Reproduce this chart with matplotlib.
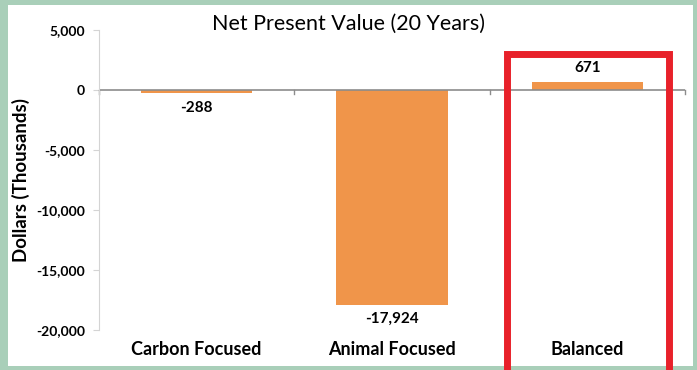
import matplotlib.pyplot as plt
from matplotlib.patches import Rectangle

categories = ['Carbon Focused', 'Animal Focused', 'Balanced']
npv = [-288, -17924, 671]
yticks = [5000, 0, -5000, -10000, -15000, -20000]

plt.rcParams['font.family'] = ['Lato', 'DejaVu Sans']

fig = plt.figure(figsize=(6.97, 3.7), dpi=100, facecolor='#a9cfb9')
# white panel behind everything
fig.patches.append(Rectangle((8/697, 4/370), 685/697, 361/370, transform=fig.transFigure,
                             facecolor='white', edgecolor='none', zorder=-10))

ax = fig.add_axes([99/697, 40/370, 586/697, 300/370])
ax.set_facecolor('none')
x = range(len(categories))
ax.bar(x, npv, width=0.57, color='#f0954a')
ax.set_xlim(-0.5, 2.5)
ax.set_ylim(-20000, 5000)

for xi, v in zip(x, npv):
    if v < 0:
        ax.text(xi, v - 600, f'{v:,}', ha='center', va='top', fontsize=11, fontweight='bold')
    else:
        ax.text(xi, v + 600, f'{v:,}', ha='center', va='bottom', fontsize=11, fontweight='bold')

ax.set_yticks(yticks)
ax.set_yticklabels([f'{t:,}' for t in yticks], fontsize=10, fontweight='bold')
ax.set_xticks([])
for s in ['top', 'right', 'bottom']:
    ax.spines[s].set_visible(False)
ax.spines['left'].set_color('#d4d4d4')
ax.tick_params(axis='y', color='#d4d4d4', length=4, pad=6)
ax.axhline(0, color='#8c8c8c', lw=1.2, zorder=1)
for b in [-0.5, 0.5, 1.5, 2.5]:
    ax.plot([b, b], [0, -350], color='#8c8c8c', lw=1, clip_on=False)

for xi, c in zip(x, categories):
    ax.text(xi, -21600, c, ha='center', va='center', fontsize=13, fontweight='bold')

ax.set_ylabel('Dollars (Thousands)', fontsize=13.5, fontweight='bold')
ax.yaxis.set_label_coords(-0.118, 0.5)
fig.text(0.5, 0.935, 'Net Present Value (20 Years)', ha='center', va='center', fontsize=15.5)

# red highlight box around Balanced
ax.add_patch(Rectangle((1.59, -25000), 0.83, 28000, fill=False, edgecolor='#e8212a',
                       lw=5, clip_on=False, zorder=5))

fig.savefig('out.png', dpi=100, facecolor=fig.get_facecolor())
